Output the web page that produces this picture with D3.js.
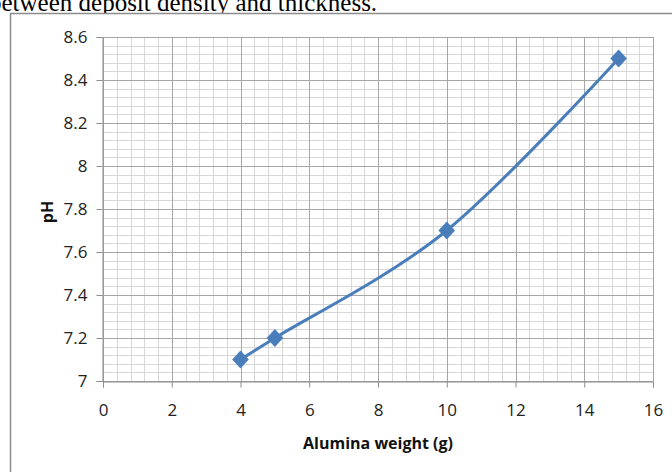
<!DOCTYPE html>
<html><head><meta charset="utf-8">
<script src="https://cdn.jsdelivr.net/npm/d3@7"></script>
<style>body{margin:0;background:#fff;}svg{display:block;}</style>
</head><body>
<svg id="c" width="672" height="472"></svg>
<script>
const xValues = [4, 5, 10, 15];
const phValues = [7.1, 7.2, 7.7, 8.5];
const xTicks = [0, 2, 4, 6, 8, 10, 12, 14, 16];
const yTicks = [7, 7.2, 7.4, 7.6, 7.8, 8, 8.2, 8.4, 8.6];
const xTitle = "Alumina weight (g)";
const yTitle = "pH";
const captionText = "between deposit density and thickness.";

const svg = d3.select("#c");
const L = 103, R = 653, T = 37, B = 381;
const x = d3.scaleLinear().domain([0, 16]).range([L, R]);
const y = d3.scaleLinear().domain([7, 8.6]).range([B, T]);

// caption (text of the page above the chart, cropped at the top)
svg.append("text").attr("x", -11).attr("y", 11)
  .attr("font-family", "Liberation Serif").attr("font-size", 25)
  .attr("fill", "#000").text(captionText);

// chart frame
svg.append("rect").attr("x", 10.5).attr("y", 13.5).attr("width", 700).attr("height", 500)
  .attr("fill", "#fff").attr("stroke", "#8c8c8c").attr("stroke-width", 1.5);

const font = "'Open Sans', 'Liberation Sans', sans-serif";
const g = svg.append("g");

// minor gridlines
const minorX = d3.range(0, 16.0001, 0.4);
const minorY = d3.range(7, 8.6001, 0.04);
g.selectAll(".mx").data(minorX).enter().append("line")
  .attr("x1", d => Math.round(x(d)) + 0.5).attr("x2", d => Math.round(x(d)) + 0.5)
  .attr("y1", T).attr("y2", B).attr("stroke", "#d6d6d6").attr("stroke-width", 1);
g.selectAll(".my").data(minorY).enter().append("line")
  .attr("y1", d => Math.round(y(d)) + 0.5).attr("y2", d => Math.round(y(d)) + 0.5)
  .attr("x1", L).attr("x2", R).attr("stroke", "#d6d6d6").attr("stroke-width", 1);
// major gridlines
g.selectAll(".Mx").data(xTicks).enter().append("line")
  .attr("x1", d => Math.round(x(d)) + 0.5).attr("x2", d => Math.round(x(d)) + 0.5)
  .attr("y1", T).attr("y2", B).attr("stroke", "#a6a6a6").attr("stroke-width", 1);
g.selectAll(".My").data(yTicks).enter().append("line")
  .attr("y1", d => Math.round(y(d)) + 0.5).attr("y2", d => Math.round(y(d)) + 0.5)
  .attr("x1", L).attr("x2", R).attr("stroke", "#a6a6a6").attr("stroke-width", 1);

// axes
const xAxis = d3.axisBottom(x).tickValues(xTicks).tickSize(6).tickPadding(16).tickFormat(d3.format("d"));
const yAxis = d3.axisLeft(y).tickValues(yTicks).tickSize(6).tickPadding(9).tickFormat(d => String(d));
const gx = svg.append("g").attr("transform", `translate(0,${Math.round(B) + 0.5})`).call(xAxis);
const gy = svg.append("g").attr("transform", `translate(${L - 0.5},0)`).call(yAxis);
[gx, gy].forEach(a => {
  a.selectAll("path").attr("stroke", "#8c8c8c");
  a.selectAll("line").attr("stroke", "#8c8c8c");
  a.selectAll("text").attr("font-family", font).attr("font-size", 17).attr("fill", "#222");
});

// titles
svg.append("text").attr("x", 378).attr("y", 449).attr("text-anchor", "middle")
  .attr("font-family", font).attr("font-weight", "bold").attr("font-size", 16).attr("fill", "#111").text(xTitle);
svg.append("text").attr("transform", "translate(53,212) rotate(-90)").attr("text-anchor", "middle")
  .attr("font-family", font).attr("font-weight", "bold").attr("font-size", 16).attr("fill", "#111").text(yTitle);

// line
const pts = xValues.map((v, i) => [v, phValues[i]]);
const line = d3.line().x(d => x(d[0])).y(d => y(d[1])).curve(d3.curveCardinal.tension(0));
svg.append("path").attr("d", line(pts)).attr("fill", "none")
  .attr("stroke", "#4a7ebb").attr("stroke-width", 3).attr("stroke-linecap", "round");
// markers
const sym = d3.symbol().type(d3.symbolSquare).size(128);
svg.selectAll(".pt").data(pts).enter().append("path")
  .attr("transform", d => `translate(${x(d[0])},${y(d[1])}) scale(1,1.08) rotate(45)`)
  .attr("d", sym).attr("fill", "#4a7ebb").attr("stroke", "#4a7ebb").attr("stroke-width", 0.5);
</script>
</body></html>
